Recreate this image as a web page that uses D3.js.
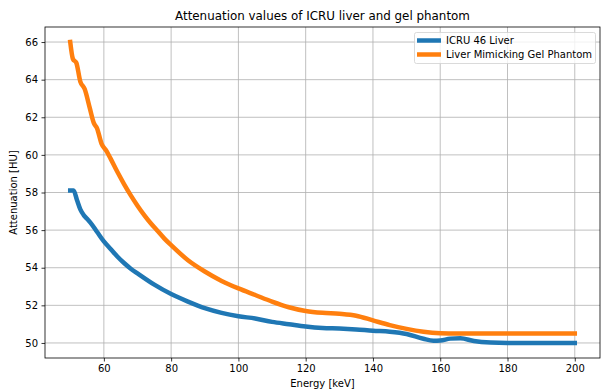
<!DOCTYPE html>
<html><head><meta charset="utf-8">
<script src="https://cdn.jsdelivr.net/npm/d3@7"></script>
<style>body{margin:0;background:#fff}svg{display:block}text{font-family:"DejaVu Sans",sans-serif;fill:#000}</style>
</head><body><svg id="c" width="601" height="390"></svg>
<script>
const title = "Attenuation values of ICRU liver and gel phantom";
const xLabel = "Energy [keV]";
const yLabel = "Attenuation [HU]";
const seriesNames = ["ICRU 46 Liver", "Liver Mimicking Gel Phantom"];
const colors = ["#1f77b4", "#ff7f0e"];
const xTicks = [60, 80, 100, 120, 140, 160, 180, 200];
const yTicks = [50, 52, 54, 56, 58, 60, 62, 64, 66];

const liverE = [50,51,52,53,54,55,56,58,60,62,64,66,68,70,75,80,85,90,95,100,105,110,115,120,125,130,135,140,145,150,155,158,160,163,166,170,175,180,190,200];
const liverV = [58.1,58.1,57.6,57.1,56.8,56.6,56.4,55.9,55.4,55.0,54.6,54.25,53.95,53.7,53.1,52.6,52.2,51.85,51.6,51.42,51.3,51.12,51.0,50.88,50.8,50.77,50.72,50.65,50.6,50.48,50.22,50.12,50.13,50.23,50.25,50.1,50.02,50.0,50.0,50.0];
const gelE = [50,50.8,51.8,53,54.3,55.8,57,58,59.3,60.8,62,64,66,68,70,72,74,76,78,80,85,90,95,100,105,110,115,120,125,130,135,140,145,150,155,160,165,180,200];
const gelV = [66.0,65.1,64.9,63.9,63.5,62.5,61.7,61.4,60.6,60.2,59.8,59.1,58.45,57.85,57.3,56.8,56.35,55.95,55.55,55.2,54.4,53.8,53.3,52.9,52.55,52.2,51.9,51.7,51.6,51.55,51.45,51.2,50.95,50.75,50.6,50.52,50.5,50.5,50.5];

const svg = d3.select("#c");
const L = 45, R = 600, T = 27, B = 358;
const x = d3.scaleLinear().domain([42.5, 207.5]).range([L, R]);
const y = d3.scaleLinear().domain([49.2, 66.8]).range([B, T]);

// grid
const g = svg.append("g");
g.selectAll(".gx").data(xTicks).join("line")
  .attr("x1", d => x(d)).attr("x2", d => x(d)).attr("y1", T).attr("y2", B)
  .attr("stroke", "#b0b0b0").attr("stroke-width", 0.8);
g.selectAll(".gy").data(yTicks).join("line")
  .attr("y1", d => y(d)).attr("y2", d => y(d)).attr("x1", L).attr("x2", R)
  .attr("stroke", "#b0b0b0").attr("stroke-width", 0.8);

// lines
const line = d3.line().x(d => x(d[0])).y(d => y(d[1])).curve(d3.curveMonotoneX);
const liverData = liverE.map((e, i) => [e, liverV[i]]);
const gelData = gelE.map((e, i) => [e, gelV[i]]);
svg.append("path").datum(liverData).attr("d", line).attr("fill", "none")
  .attr("stroke", colors[0]).attr("stroke-width", 4.5).attr("stroke-linecap", "square");
svg.append("path").datum(gelData).attr("d", line).attr("fill", "none")
  .attr("stroke", colors[1]).attr("stroke-width", 4.5).attr("stroke-linecap", "square");

// axes
const xAxis = d3.axisBottom(x).tickValues(xTicks).tickSize(3.5).tickPadding(3.5).tickSizeOuter(0);
const yAxis = d3.axisLeft(y).tickValues(yTicks).tickSize(3.5).tickPadding(3.5).tickSizeOuter(0);
const gx = svg.append("g").attr("transform", `translate(0,${B})`).call(xAxis);
const gy = svg.append("g").attr("transform", `translate(${L},0)`).call(yAxis);
[gx, gy].forEach(a => {
  a.select(".domain").remove();
  a.selectAll("line").attr("stroke", "#000").attr("stroke-width", 0.8);
  a.selectAll("text").attr("font-size", "10px").attr("font-family", "DejaVu Sans").attr("fill", "#000");
});
// spines
svg.append("rect").attr("x", L).attr("y", T).attr("width", R - L).attr("height", B - T)
  .attr("fill", "none").attr("stroke", "#000").attr("stroke-width", 0.8);

// labels
svg.append("text").attr("x", (L + R) / 2).attr("y", 20).attr("text-anchor", "middle")
  .attr("font-size", "11.9px").text(title);
svg.append("text").attr("x", (L + R) / 2).attr("y", 387).attr("text-anchor", "middle")
  .attr("font-size", "10px").text(xLabel);
svg.append("text").attr("transform", `translate(17,${(T + B) / 2}) rotate(-90)`).attr("text-anchor", "middle")
  .attr("font-size", "10px").text(yLabel);

// legend
const lg = svg.append("g");
lg.append("rect").attr("x", 414.5).attr("y", 32.5).attr("width", 181).attr("height", 31).attr("rx", 2)
  .attr("fill", "#fff").attr("fill-opacity", 0.8).attr("stroke", "#d0d0d0").attr("stroke-width", 0.8);
seriesNames.forEach((n, i) => {
  const yy = 40.5 + i * 14;
  lg.append("line").attr("x1", 417).attr("x2", 441).attr("y1", yy).attr("y2", yy)
    .attr("stroke", colors[i]).attr("stroke-width", 4.5);
  lg.append("text").attr("x", 446).attr("y", yy + 3.6).attr("font-size", "10px").text(n);
});
</script></body></html>
